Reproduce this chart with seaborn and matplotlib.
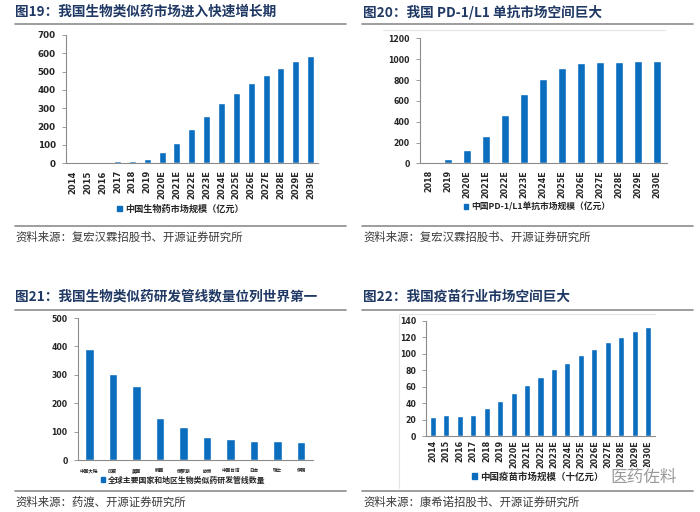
import numpy as np
import matplotlib
matplotlib.use("Agg")
import matplotlib.pyplot as plt
from matplotlib.lines import Line2D
from matplotlib.patches import Patch
import seaborn as sns

# %% Data
years_19 = ["2014", "2015", "2016", "2017", "2018", "2019", "2020E", "2021E", "2022E",
            "2023E", "2024E", "2025E", "2026E", "2027E", "2028E", "2029E", "2030E"]
biologics_19 = [7, 7, 9, 11, 15, 25, 64, 111, 185, 256, 327, 385, 440, 480, 518, 556, 585]

years_20 = ["2018", "2019", "2020E", "2021E", "2022E", "2023E", "2024E", "2025E",
            "2026E", "2027E", "2028E", "2029E", "2030E"]
pd1_20 = [6, 40, 130, 265, 462, 665, 812, 918, 962, 972, 976, 980, 982]

regions_21 = ["中国大陆", "印度", "美国", "韩国", "俄罗斯", "欧洲", "中国台湾", "日本", "瑞士", "伊朗"]
pipeline_21 = [392, 302, 262, 148, 115, 80, 73, 68, 67, 65]

years_22 = years_19
vaccine_22 = [23.5, 25.5, 24, 25.5, 34, 43, 52, 62, 71.5, 81, 89, 98, 106, 114, 120.5, 127, 132]

titles = ["图19：我国生物类似药市场进入快速增长期", "图20：我国 PD-1/L1 单抗市场空间巨大",
          "图21：我国生物类似药研发管线数量位列世界第一", "图22：我国疫苗行业市场空间巨大"]
sources = ["资料来源：复宏汉霖招股书、开源证券研究所", "资料来源：复宏汉霖招股书、开源证券研究所",
           "资料来源：药渡、开源证券研究所", "资料来源：康希诺招股书、开源证券研究所"]
legends = ["中国生物药市场规模（亿元）", "中国PD-1/L1单抗市场规模（亿元）",
           "全球主要国家和地区生物类似药研发管线数量", "中国疫苗市场规模（十亿元）"]

# %% Style
sns.set_theme(style="white")
plt.rcParams["font.family"] = ["DejaVu Sans", "Noto Sans CJK SC"]
plt.rcParams["font.weight"] = "bold"
CJK = ["Noto Sans CJK SC", "DejaVu Sans"]
BLUE = "#0A6DBE"
NAVY = "#1F3864"
W, H = 700, 512

fig = plt.figure(figsize=(7, 5.12), dpi=100)


def px_axes(left, top, right, bottom):
    return fig.add_axes([left / W, 1 - bottom / H, (right - left) / W, (bottom - top) / H])


def hline(x0, x1, y, color="#8C8C8C", lw=1.2):
    fig.add_artist(Line2D([x0 / W, x1 / W], [1 - y / H, 1 - y / H],
                          transform=fig.transFigure, color=color, lw=lw))


def bar_panel(ax, cats, vals, ymax, step, width, xfs, yfs, xrot, xpad):
    sns.barplot(x=cats, y=vals, color=BLUE, saturation=1, width=width, ax=ax)
    ax.set_ylim(0, ymax)
    ax.set_yticks(np.arange(0, ymax + 1, step))
    ax.set_xlim(-0.5, len(cats) - 0.5)
    for s in ["top", "right"]:
        ax.spines[s].set_visible(False)
    for s in ["left", "bottom"]:
        ax.spines[s].set_color("#8C8C8C")
        ax.spines[s].set_linewidth(0.8)
    ax.set_xticks(np.arange(-0.5, len(cats)), minor=True)
    ax.tick_params(axis="x", which="major", length=0, pad=xpad, labelsize=xfs, rotation=xrot)
    ax.tick_params(axis="x", which="minor", length=3, width=0.6, color="#8C8C8C", direction="out")
    ax.tick_params(axis="y", which="major", length=3, width=0.6, color="#8C8C8C",
                   direction="out", left=True, labelsize=yfs, pad=4)
    ax.set_xlabel("")
    ax.set_ylabel("")
    ax.patch.set_alpha(0)


def add_legend(ax, label, x, y, fs):
    ax.legend(handles=[Patch(color=BLUE)], labels=[label], loc="center left",
              bbox_to_anchor=(x / W, 1 - y / H), bbox_transform=fig.transFigure,
              frameon=False, handlelength=0.5, handleheight=0.5, handletextpad=0.35,
              borderpad=0, borderaxespad=0,
              prop={"family": CJK, "size": fs, "weight": "bold"})


# %% Panel frames: titles, rules, sources
for (tx, ty, sy, r_top, r_bot), title, src in zip(
        [(15, 12, 237, 24, 226), (363, 12.5, 237, 24, 226),
         (15, 296, 502, 309.5, 491), (363, 296.5, 502, 309.5, 491)], titles, sources):
    fig.text(tx / W, 1 - ty / H, title, family=CJK, fontsize=9.8, fontweight="bold",
             color=NAVY, va="center", ha="left")
    x0, x1 = (15, 346) if tx < 100 else (362, 693)
    hline(x0, x1, r_top)
    hline(x0, x1, r_bot)
    fig.text(tx / W, 1 - sy / H, src, family=CJK, fontsize=8.2, fontweight="normal",
             color="#3A3A3A", va="center", ha="left")

# light chart-area borders visible in the right-hand panels
hline(383, 665, 29.5, color="#E3E3E3", lw=0.8)
hline(399, 655, 314, color="#E3E3E3", lw=0.8)
fig.add_artist(Line2D([399 / W, 399 / W], [1 - 314 / H, 1 - 488 / H],
                      transform=fig.transFigure, color="#E3E3E3", lw=0.8))

# %% Fig 19
ax19 = px_axes(65.5, 35, 318, 163.3)
bar_panel(ax19, years_19, biologics_19, 700, 100, 0.47, 6.0, 6.3, 90, 5)
add_legend(ax19, legends[0], 117, 209.5, 6.6)

# %% Fig 20
ax20 = px_axes(419.5, 38.5, 666.5, 163.3)
bar_panel(ax20, years_20, pd1_20, 1200, 200, 0.42, 5.8, 5.6, 90, 5)
add_legend(ax20, legends[1], 464, 207, 6.3)

# %% Fig 21
ax21 = px_axes(77.5, 318, 313, 460)
bar_panel(ax21, regions_21, pipeline_21, 500, 100, 0.36, 3.3, 5.6, 0, 6)
for lab in ax21.get_xticklabels():
    lab.set_family(CJK)
add_legend(ax21, legends[2], 101, 480, 5.7)

# %% Fig 22
ax22 = px_axes(426, 320.6, 655, 436)
bar_panel(ax22, years_22, vaccine_22, 140, 20, 0.45, 5.8, 5.6, 90, 3)
add_legend(ax22, legends[3], 472, 476.5, 6.8)

# watermark
fig.text(610 / W, 1 - 477 / H, "医药佐料", family=CJK, fontsize=12, fontweight="normal",
         color="#9A9A9A", va="center", ha="left",
         bbox=dict(facecolor="white", edgecolor="none", alpha=0.85, pad=1))

fig.savefig("out.png", dpi=100)
